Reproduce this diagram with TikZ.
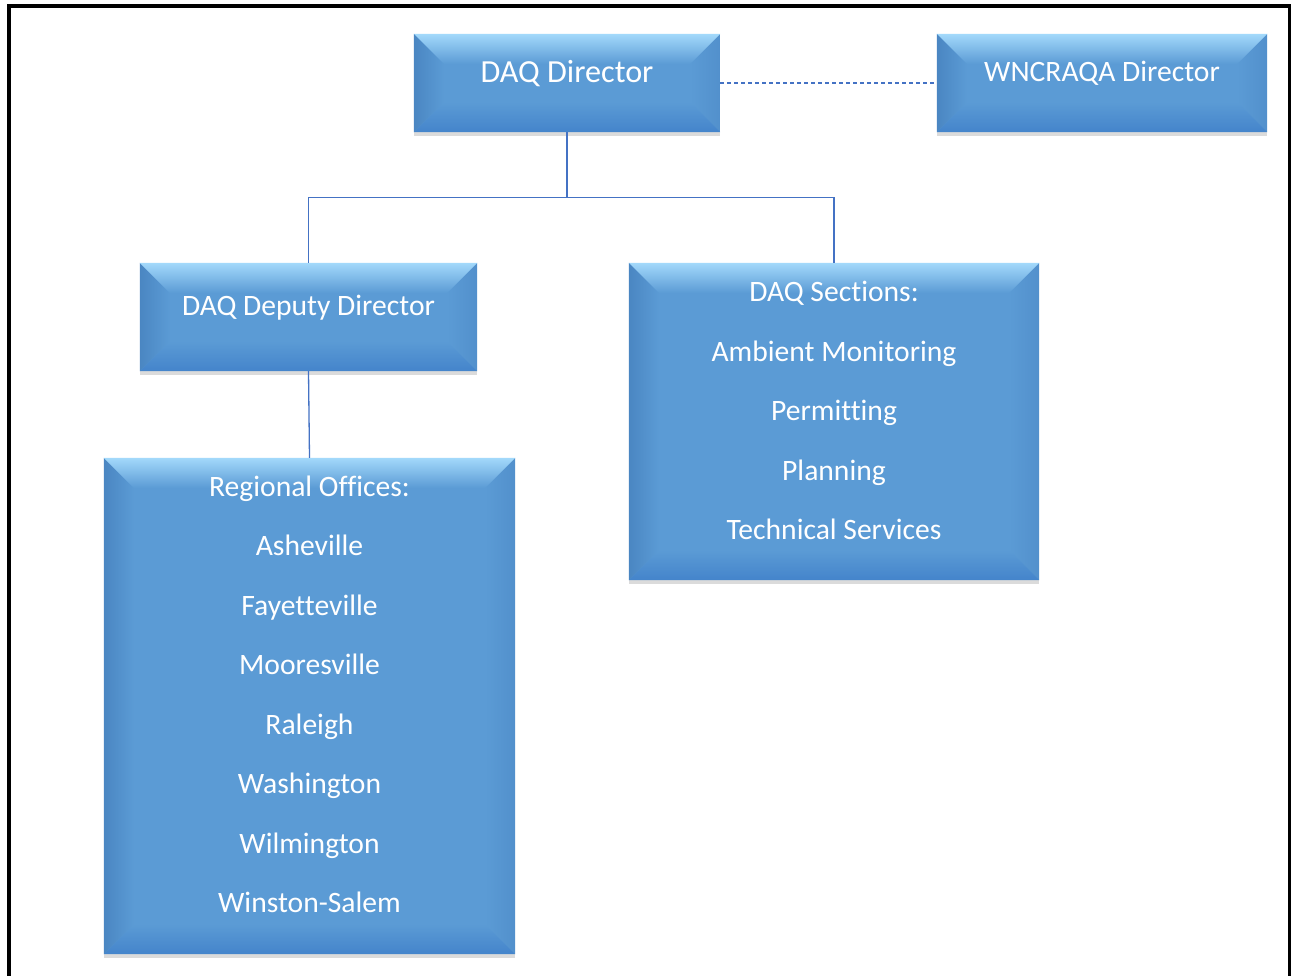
\documentclass[tikz,border=0pt]{standalone}
\usepackage{fontspec}
\setmainfont{Carlito}[Ligatures=NoCommon]
\usetikzlibrary{calc,shadows}

\definecolor{faceblue}{HTML}{5B9BD5}
\definecolor{toplight}{HTML}{A3D9FB}
\definecolor{topmid}{HTML}{74B3E6}
\definecolor{sidedark}{HTML}{4A86C2}
\definecolor{rightdark}{HTML}{5290CC}
\definecolor{bottomdark}{HTML}{4484CB}
\definecolor{linkblue}{HTML}{4472C4}

\tikzset{
  orgbox/.style={rectangle, fill=faceblue, inner sep=0pt,
    drop shadow={opacity=0.28, shadow xshift=0pt, shadow yshift=-4pt}},
  orgtext/.style={text=white, align=center, inner sep=0pt,
    font=\fontsize{29.6}{59.5}\selectfont},
  bigtext/.style={orgtext, font=\fontsize{32.2}{40}\selectfont},
  link/.style={draw=linkblue, line width=1.3pt},
  dashlink/.style={link, dash pattern=on 4pt off 3pt},
}

% bevel depth of every box
\newcommand{\bd}{30pt}
% the four sloping faces of a bevelled box named #1
\newcommand{\bevelfaces}[1]{%
  \coordinate (#1-inw) at ($(#1.north west)+(\bd,-\bd)$);
  \coordinate (#1-ine) at ($(#1.north east)+(-\bd,-\bd)$);
  \coordinate (#1-isw) at ($(#1.south west)+(\bd,\bd)$);
  \coordinate (#1-ise) at ($(#1.south east)+(-\bd,\bd)$);
  \shade[left color=sidedark, right color=faceblue]
    (#1.north west) -- (#1-inw) -- (#1-isw) -- (#1.south west) -- cycle;
  \shade[left color=faceblue, right color=rightdark]
    (#1.north east) -- (#1-ine) -- (#1-ise) -- (#1.south east) -- cycle;
  \shade[top color=faceblue, bottom color=bottomdark]
    (#1.south west) -- (#1-isw) -- (#1-ise) -- (#1.south east) -- cycle;
  \shade[top color=toplight, middle color=topmid, bottom color=faceblue]
    (#1.north west) -- (#1.north east) -- (#1-ine) -- (#1-inw) -- cycle;
}

\begin{document}
\begin{tikzpicture}[x=1pt, y=1pt]
  \useasboundingbox (0,0) rectangle (1291,-975);
  \clip (0,0) rectangle (1291,-975);
  \fill[white] (0,0) rectangle (1291,-975);

  % outer frame, open at the bottom
  \draw[line width=4pt] (9,-1000) -- (9,-6) -- (1289.5,-6) -- (1289.5,-1000);

  % boxes
  \node[orgbox, minimum width=306pt, minimum height=98pt]  (dir) at (567,-83) {};
  \node[orgbox, minimum width=330pt, minimum height=98pt]  (wnc) at (1102,-83) {};
  \node[orgbox, minimum width=337pt, minimum height=108pt] (dep) at (308.5,-317) {};
  \node[orgbox, minimum width=410pt, minimum height=317pt] (sec) at (834,-421.5) {};
  \node[orgbox, minimum width=411pt, minimum height=496pt] (reg) at (309.5,-706) {};

  \bevelfaces{dir}
  \bevelfaces{wnc}
  \bevelfaces{dep}
  \bevelfaces{sec}
  \bevelfaces{reg}

  % labels
  \node[bigtext] (dir-t) at ($(dir.center)+(0,9)$) {DAQ Director};
  \node[orgtext] (wnc-t) at ($(wnc.center)+(0,9.5)$) {WNCRAQA Director};
  \node[orgtext] (dep-t) at ($(dep.center)+(0,9)$) {DAQ Deputy Director};
  \node[orgtext] (sec-t) at ($(sec.center)+(0,11)$)
    {DAQ Sections:\\Ambient Monitoring\\Permitting\\Planning\\Technical Services};
  \node[orgtext] (reg-t) at ($(reg.center)+(0,11.5)$)
    {Regional Offices:\\Asheville\\Fayetteville\\Mooresville\\Raleigh\\Washington\\Wilmington\\Winston-Salem};

  % connectors
  \coordinate (bus) at ($(dir.south)+(0,-65)$);
  \draw[link] (dir.south) -- (bus);
  \draw[link] (dep.north) |- (bus) -| (sec.north);
  \draw[link] (dep.south) -- (reg.north);
  \draw[dashlink] (dir.east) -- (wnc.west);
\end{tikzpicture}
\end{document}
